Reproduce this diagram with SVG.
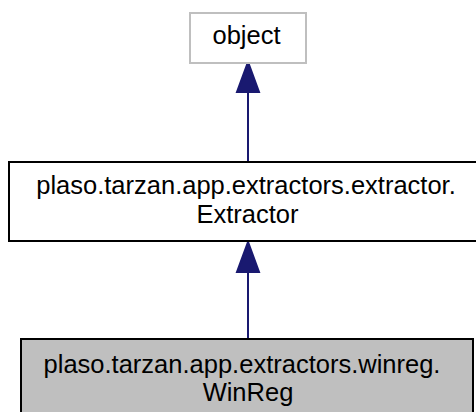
<svg xmlns="http://www.w3.org/2000/svg" width="476" height="412" viewBox="0 0 476 412">
<style>
text{font-family:"Liberation Sans",Arial,sans-serif;font-size:25.5px;text-anchor:middle;fill:#000}
.edge{stroke:#191970;stroke-width:2;fill:none}
.head{fill:#191970;stroke:#191970;stroke-width:2}
</style>
<rect width="476" height="412" fill="#fff"/>
<g id="connectors">
<path class="edge" d="M248,162 V92"/>
<polygon class="head" points="248,62 237,92 259,92"/>
<path class="edge" d="M248,339 V272"/>
<polygon class="head" points="248,242 237,272 259,272"/>
</g>
<g id="object">
<rect x="190" y="13" width="116" height="50" fill="#fff" stroke="#bfbfbf" stroke-width="2"/>
<text x="246.5" y="44">object</text>
</g>
<g id="extractor">
<rect x="9" y="162" width="470" height="79" fill="#fff" stroke="#000" stroke-width="2"/>
<text x="246" y="194">plaso.tarzan.app.extractors.extractor.</text>
<text x="247.5" y="223">Extractor</text>
</g>
<g id="winreg">
<rect x="21" y="339" width="452" height="75" fill="#bfbfbf" stroke="#000" stroke-width="2"/>
<text x="242" y="373">plaso.tarzan.app.extractors.winreg.</text>
<text x="248" y="401">WinReg</text>
</g>
</svg>
